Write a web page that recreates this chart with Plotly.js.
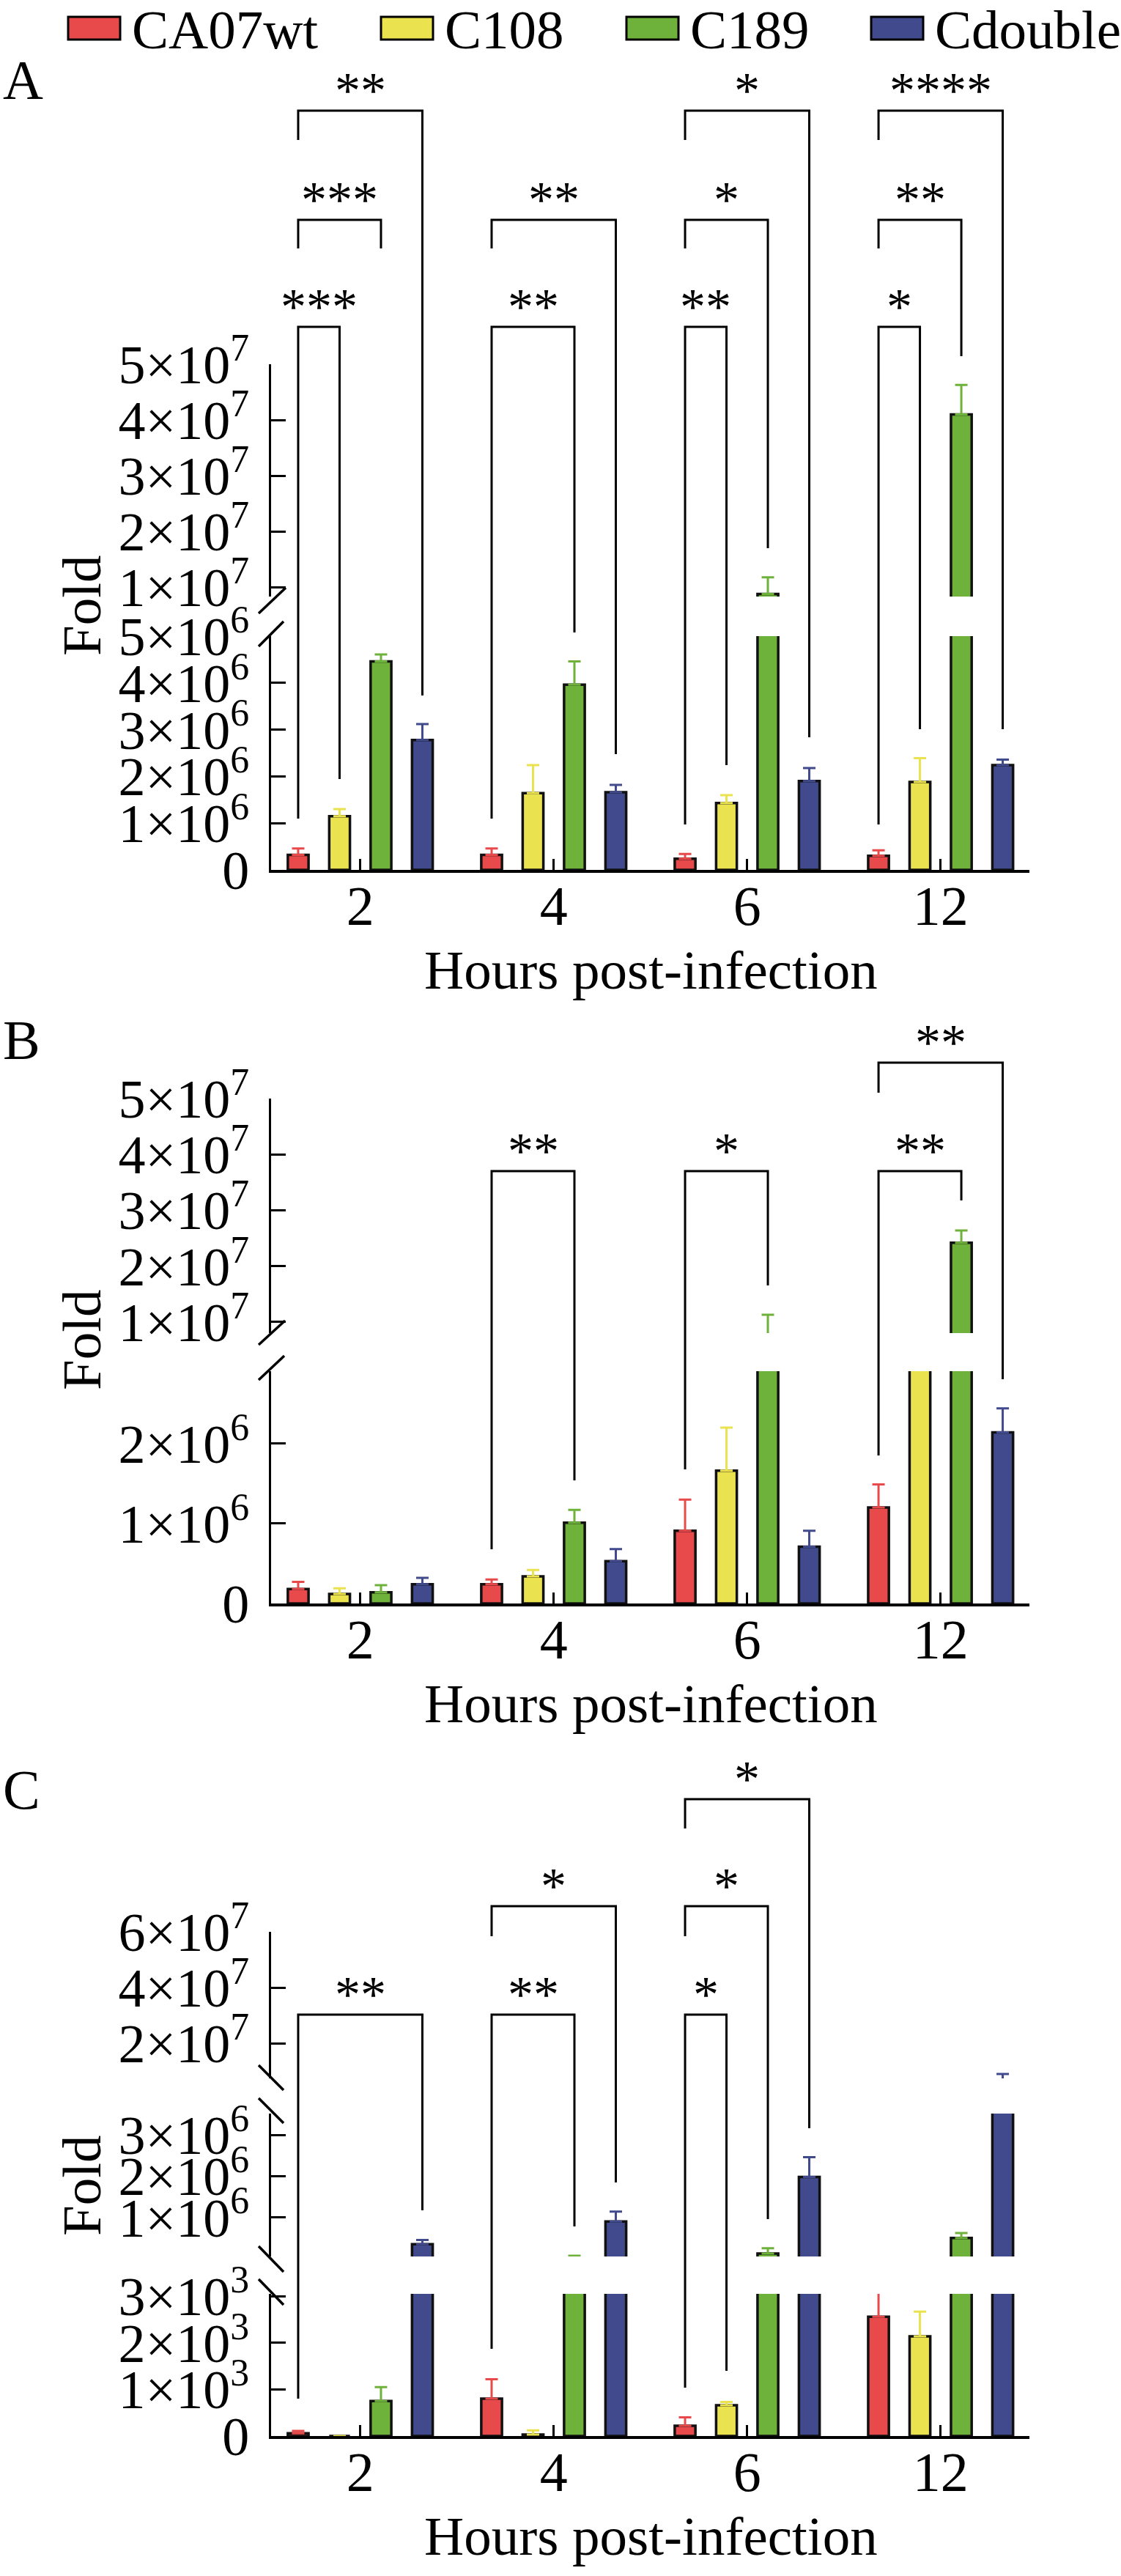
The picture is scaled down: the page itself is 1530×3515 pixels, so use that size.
<!DOCTYPE html>
<html>
<head>
<meta charset="utf-8">
<script src="https://cdn.plot.ly/plotly-3.0.1.min.js"></script>
<style>
  body { margin: 0; background: #fff; }
  #chart { width: 1530px; height: 3515px; }
</style>
</head>
<body>
<div id="chart"></div>
<script>
// ---- data ----
var hours = ['2', '4', '6', '12'];
var series = ['CA07wt', 'C108', 'C189', 'Cdouble'];
var colors = ['#E84A4B', '#EAE34F', '#6FB23B', '#404A8C'];

// panel A
var aWt      = [0.32e6, 0.32e6, 0.24e6, 0.30e6];
var aWtErr   = [0.14e6, 0.14e6, 0.10e6, 0.12e6];
var a108     = [1.15e6, 1.64e6, 1.43e6, 1.88e6];
var a108Err  = [0.15e6, 0.60e6, 0.17e6, 0.51e6];
var a189     = [4.46e6, 3.96e6, 8.8e6, 4.1e7];
var a189Err  = [0.15e6, 0.50e6, 3.0e6, 5.3e6];
var aDbl     = [2.78e6, 1.66e6, 1.90e6, 2.24e6];
var aDblErr  = [0.34e6, 0.16e6, 0.28e6, 0.12e6];

// panel B
var bWt      = [0.18e6, 0.24e6, 0.91e6, 1.20e6];
var bWtErr   = [0.09e6, 0.06e6, 0.39e6, 0.29e6];
var b108     = [0.12e6, 0.34e6, 1.66e6, 4.5e6];
var b108Err  = [0.07e6, 0.08e6, 0.54e6, 0.6e6];
var b189     = [0.14e6, 1.01e6, 5.0e6, 2.42e7];
var b189Err  = [0.09e6, 0.16e6, 6.3e6, 0.22e7];
var bDbl     = [0.24e6, 0.53e6, 0.71e6, 2.14e6];
var bDblErr  = [0.08e6, 0.15e6, 0.20e6, 0.30e6];

// panel C
var cWt      = [60, 800, 220, 2560];
var cWtErr   = [50, 420, 180, 700];
var c108     = [0, 30, 660, 2140];
var c108Err  = [null, 90, 70, 530];
var c189     = [750, 8000, 121000, 500000];
var c189Err  = [300, 60000, 129000, 120000];
var cDbl     = [350000, 900000, 1980000, 5000000];
var cDblErr  = [100000, 240000, 480000, 4100000];

// tick values / labels
var tvA0 = [0, 1e6, 2e6, 3e6, 4e6, 5e6];
var ttA0 = ['0', '1×10<sup>6</sup>', '2×10<sup>6</sup>', '3×10<sup>6</sup>', '4×10<sup>6</sup>', '5×10<sup>6</sup>'];
var tvA1 = [1e7, 2e7, 3e7, 4e7, 5e7];
var ttA1 = ['1×10<sup>7</sup>', '2×10<sup>7</sup>', '3×10<sup>7</sup>', '4×10<sup>7</sup>', '5×10<sup>7</sup>'];
var tvB0 = [0, 1e6, 2e6];
var ttB0 = ['0', '1×10<sup>6</sup>', '2×10<sup>6</sup>'];
var tvB1 = tvA1, ttB1 = ttA1;
var tvC0 = [0, 1e3, 2e3, 3e3];
var ttC0 = ['0', '1×10<sup>3</sup>', '2×10<sup>3</sup>', '3×10<sup>3</sup>'];
var tvC1 = [1e6, 2e6, 3e6];
var ttC1 = ['1×10<sup>6</sup>', '2×10<sup>6</sup>', '3×10<sup>6</sup>'];
var tvC2 = [2e7, 4e7, 6e7];
var ttC2 = ['2×10<sup>7</sup>', '4×10<sup>7</sup>', '6×10<sup>7</sup>'];

// significance: [group, from series, to series, stars]
var sigA = [[0,0,1,'***'],[0,0,2,'***'],[0,0,3,'**'],[1,0,2,'**'],[1,0,3,'**'],
            [2,0,1,'**'],[2,0,2,'*'],[2,0,3,'*'],[3,0,1,'*'],[3,0,2,'**'],[3,0,3,'****']];
var sigB = [[1,0,2,'**'],[2,0,2,'*'],[3,0,2,'**'],[3,0,3,'**']];
var sigC = [[0,0,3,'**'],[1,0,2,'**'],[1,0,3,'*'],[2,0,1,'*'],[2,0,2,'*'],[2,0,3,'*']];

// ---- layout (pixels of the 1530x3515 page) ----
var W = 1530, H = 3515;
var FONT = 'Liberation Serif, Times New Roman, serif';
function yp(v) { return 1 - v / H; }
function xp(v) { return v / W; }

// bracket geometry: [bar y, left leg end, right leg end]
var geoA = [[446,1117,1063],[300,339,339],[151,191,949],[446,1117,863],[300,339,1029],
            [446,1125,1044],[300,339,748],[151,191,1006],[446,1125,995],[300,339,486],[151,191,995]];
var geoB = [[1598,2114,2020],[1598,2005,1754],[1598,1986,1638],[1450,1491,1882]];
var geoC = [[2749,3273,3016],[2749,3205,3038],[2601,2642,2978],[2749,3258,3235],[2601,2642,3028],[2455,2495,2904]];

var panels = [
  { x: 'x', label: 'A', labelY: 109, foldY: 826, axisY: 1187,
    vals: [aWt, a108, a189, aDbl], errs: [aWtErr, a108Err, a189Err, aDblErr],
    sig: sigA, geo: geoA,
    segs: [ { y: 'y',  px: [868, 1187], range: [0, 5e6],      tv: tvA0, tt: ttA0 },
            { y: 'y2', px: [497, 814],  range: [0.834e7, 5e7], tv: tvA1, tt: ttA1 } ],
    breaks: [[353,837,390,802],[353,882,387,848]] },
  { x: 'x2', label: 'B', labelY: 1419, foldY: 1828, axisY: 2188,
    vals: [bWt, b108, b189, bDbl], errs: [bWtErr, b108Err, b189Err, bDblErr],
    sig: sigB, geo: geoB,
    segs: [ { y: 'y3', px: [1871, 2188], range: [0, 2.905e6],  tv: tvB0, tt: ttB0 },
            { y: 'y4', px: [1499, 1819], range: [0.803e7, 5e7], tv: tvB1, tt: ttB1 } ],
    breaks: [[353,1835,389,1802],[353,1883,388,1850]] },
  { x: 'x3', label: 'C', labelY: 2442, foldY: 2982, axisY: 3324,
    vals: [cWt, c108, c189, cDbl], errs: [cWtErr, c108Err, c189Err, cDblErr],
    sig: sigC, geo: geoC,
    segs: [ { y: 'y5', px: [3130, 3324], range: [0, 3050],       tv: tvC0, tt: ttC0 },
            { y: 'y6', px: [2884, 3079], range: [5e4, 3.52e6],   tv: tvC1, tt: ttC1 },
            { y: 'y7', px: [2636, 2836], range: [0.753e7, 6e7],  tv: tvC2, tt: ttC2 } ],
    breaks: [[353,2818,387,2852],[353,2863,387,2897],[353,3065,387,3100],[353,3110,387,3145]] }
];

var BARGAP = 0.144;
var slot = (1 - BARGAP) / series.length;
function barX(g, k) { return g + (k - (series.length - 1) / 2) * slot; }
var xIdx = hours.map(function (h, i) { return i; });

function axKey(ref) { return ref.charAt(0) + 'axis' + ref.slice(1); }

var traces = [];
var shapes = [];
var annotations = [];
var layout = {
  width: W, height: H,
  margin: { l: 0, r: 0, t: 0, b: 0 },
  paper_bgcolor: '#fff', plot_bgcolor: 'rgba(0,0,0,0)',
  barmode: 'group', bargap: BARGAP, bargroupgap: 0.5,
  showlegend: false,
  font: { family: FONT, color: '#000', size: 74 }
};

panels.forEach(function (p) {
  // x axis anchored to the lowest segment
  layout[axKey(p.x)] = {
    domain: [xp(370), xp(1405)], range: [-0.461, 3.459],
    anchor: p.segs[0].y,
    tickvals: xIdx, ticktext: hours,
    showline: true, linewidth: 3.5, linecolor: '#000',
    ticks: 'inside', ticklen: 15, tickwidth: 3, tickcolor: '#000',
    showgrid: false, zeroline: false, fixedrange: true,
    tickfont: { family: FONT, size: 76, color: '#000' },
    ticklabelstandoff: -20
  };
  p.segs.forEach(function (s) {
    layout[axKey(s.y)] = {
      domain: [yp(s.px[1]), yp(s.px[0])], range: s.range,
      anchor: p.x,
      tickvals: s.tv, ticktext: s.tt,
      showline: true, linewidth: 3, linecolor: '#000',
      ticks: 'inside', ticklen: 20, tickwidth: 3, tickcolor: '#000',
      showgrid: false, zeroline: false, fixedrange: true,
      tickfont: { family: FONT, size: 74, color: '#000' },
      ticklabelstandoff: 12
    };
    series.forEach(function (name, k) {
      traces.push({
        type: 'bar', name: name, x: xIdx, y: p.vals[k],
        xaxis: p.x, yaxis: s.y, hoverinfo: 'skip',
        marker: { color: colors[k], line: { color: '#111', width: 3.5 } },
        error_y: { type: 'data', symmetric: false, array: p.errs[k],
                   arrayminus: p.errs[k].map(function () { return 0; }),
                   color: colors[k], thickness: 3, width: 8.5 }
      });
    });
  });

  // axis break marks
  p.breaks.forEach(function (b) {
    shapes.push({ type: 'line', xref: 'paper', yref: 'paper',
      x0: xp(b[0]), y0: yp(b[1]), x1: xp(b[2]), y1: yp(b[3]),
      line: { color: '#000', width: 3.5 } });
  });

  // significance brackets
  p.sig.forEach(function (c, i) {
    var g = p.geo[i];
    var xl = barX(c[0], c[1]), xr = barX(c[0], c[2]);
    var path = 'M' + xl + ',' + yp(g[1]) + ' L' + xl + ',' + yp(g[0]) +
               ' L' + xr + ',' + yp(g[0]) + ' L' + xr + ',' + yp(g[2]);
    shapes.push({ type: 'path', xref: p.x, yref: 'paper', path: path,
      line: { color: '#000', width: 3 } });
    annotations.push({ xref: p.x, yref: 'paper', x: (xl + xr) / 2, y: yp(g[0] - 28),
      text: c[3], showarrow: false, xanchor: 'center', yanchor: 'middle',
      font: { family: FONT, size: 70, color: '#000' } });
  });

  // panel letter, y title, x title
  annotations.push({ xref: 'paper', yref: 'paper', x: xp(2), y: yp(p.labelY),
    text: p.label, showarrow: false, xanchor: 'left', yanchor: 'middle',
    font: { family: FONT, size: 76, color: '#000' } });
  annotations.push({ xref: 'paper', yref: 'paper', x: xp(111), y: yp(p.foldY),
    text: 'Fold', textangle: -90, showarrow: false, xanchor: 'center', yanchor: 'middle',
    font: { family: FONT, size: 75, color: '#000' } });
  annotations.push({ xref: 'paper', yref: 'paper', x: xp(888), y: yp(p.axisY + 136),
    text: 'Hours post-infection', showarrow: false, xanchor: 'center', yanchor: 'middle',
    font: { family: FONT, size: 75, color: '#000' } });
});

// legend drawn as boxes + labels
var legBoxX = [93, 520, 855, 1189];
series.forEach(function (name, k) {
  shapes.push({ type: 'rect', xref: 'paper', yref: 'paper',
    x0: xp(legBoxX[k]), x1: xp(legBoxX[k] + 71), y0: yp(54), y1: yp(23),
    fillcolor: colors[k], line: { color: '#000', width: 3 } });
  annotations.push({ xref: 'paper', yref: 'paper', x: xp(legBoxX[k] + 85), y: yp(40),
    text: name, showarrow: false, xanchor: 'left', yanchor: 'middle',
    font: { family: FONT, size: 75, color: '#000' } });
});

layout.shapes = shapes;
layout.annotations = annotations;

Plotly.newPlot('chart', traces, layout, { displayModeBar: false, staticPlot: true });
</script>
</body>
</html>
